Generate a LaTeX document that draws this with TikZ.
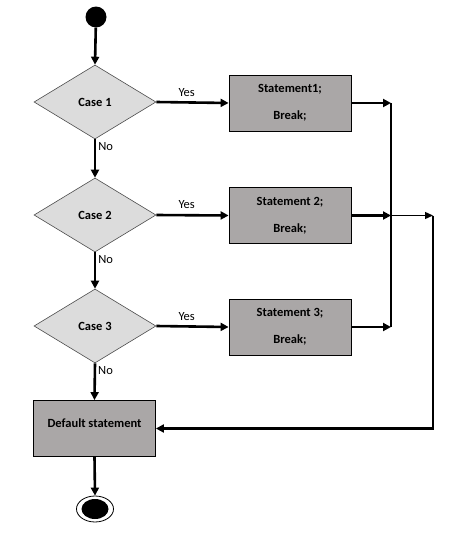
\documentclass[tikz,border=0pt]{standalone}
\usepackage{fontspec}
\setmainfont{Carlito}
\usetikzlibrary{shapes.geometric,arrows.meta}
\definecolor{dgray}{HTML}{DCDCDC}
\definecolor{bgray}{HTML}{AAA7A7}
\begin{document}
\begin{tikzpicture}[x=1pt,y=-1pt,
  conn/.style={line width=2.6pt,-{Triangle[length=8pt,width=8pt]}},
  thinconn/.style={line width=1.3pt,-{Triangle[length=8pt,width=7pt]}},
  decision/.style={diamond,draw=black!70,line width=0.6pt,fill=dgray,minimum width=122pt,minimum height=74pt,inner sep=0pt,aspect=1.65,font=\fontsize{12.5}{15}\selectfont\bfseries},
  stmt/.style={rectangle,draw=black,line width=0.8pt,fill=bgray,minimum width=122pt,minimum height=56pt,inner sep=0pt,align=center,font=\fontsize{12.5}{15}\selectfont\bfseries},
  lbl/.style={font=\fontsize{12.5}{15}\selectfont,inner sep=1pt}]
\useasboundingbox (0,0) rectangle (452,538);
\node[circle,fill=black,minimum size=21pt,inner sep=0pt] (start) at (96,17) {};
\node[decision] (d1) at (95,102) {Case 1};
\node[decision] (d2) at (95,215) {Case 2};
\node[decision] (d3) at (95,326) {Case 3};
\node[stmt] (b1) at (290,103) {Statement1;\\[12pt]Break;};
\node[stmt] (b2) at (290,215.5) {Statement 2;\\[12pt]Break;};
\node[stmt] (b3) at (290,327) {Statement 3;\\[12pt]Break;};
\node[stmt,text depth=10pt] (def) at (94.5,428.5) {Default statement};
\node[ellipse,draw=black,line width=0.8pt,fill=white,minimum width=37pt,minimum height=26pt,inner sep=0pt] (end) at (95,509) {};
\node[ellipse,fill=black,minimum width=27pt,minimum height=20pt,inner sep=0pt] (endin) at (95,509) {};
\coordinate (j1) at (391,103);
\coordinate (j2) at (391,215.5);
\coordinate (j3) at (391,327);
\coordinate (k2) at (433,215.5);
\coordinate (k3) at (433,428.5);
\draw[conn] (start) -- (d1.north);
\draw[conn] (d1.south) -- node[lbl,pos=0.2,right,xshift=1pt]{No} (d2.north);
\draw[conn] (d2.south) -- node[lbl,pos=0.2,right,xshift=1pt]{No} (d3.north);
\draw[conn] (d3.south) -- node[lbl,pos=0.2,right,xshift=1pt]{No} (def.north);
\draw[conn] (def.south) -- (end.north);
\draw[conn] (d1.east) -- node[lbl,above,pos=0.42,yshift=4pt]{Yes} (b1.west);
\draw[conn] (d2.east) -- node[lbl,above,pos=0.42,yshift=4pt]{Yes} (b2.west);
\draw[conn] (d3.east) -- node[lbl,above,pos=0.42,yshift=4pt]{Yes} (b3.west);
\draw[conn] (b1.east) -- (j1);
\draw[conn] (b2.east) -- (j2);
\draw[conn] (b3.east) -- (j3);
\draw[line width=2pt] (j1) -- (j3);
\draw[thinconn] (j2) -- (k2);
\draw[conn] (k2) -- (k3) -- (def.east);
\end{tikzpicture}
\end{document}
